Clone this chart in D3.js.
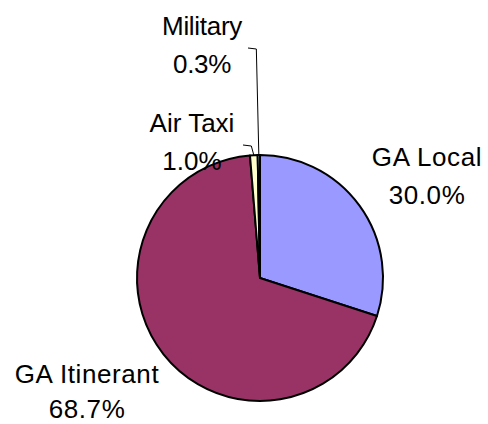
<!DOCTYPE html>
<html>
<head>
<meta charset="utf-8">
<script src="https://cdn.jsdelivr.net/npm/d3@7"></script>
<style>
html,body{margin:0;padding:0;background:#fff;}
svg{display:block;}
text{font-family:"Liberation Sans",Arial,sans-serif;font-size:26px;fill:#000;}
</style>
</head>
<body>
<svg id="chart" width="488" height="424"></svg>
<script>
const categories = ["GA Local", "GA Itinerant", "Air Taxi", "Military"];
const values = [30.0, 68.7, 1.0, 0.3];
const labels = ["30.0%", "68.7%", "1.0%", "0.3%"];
const colors = ["#9999FF", "#993366", "#FFFFCC", "#CCFFFF"];

// layout
const cx = 260, cy = 278, R = 123;
const labelPos = [
  {x: 427, y: 166, lh: 38, ls: 0.6},
  {x: 87, y: 383, lh: 35, ls: 0.6},
  {x: 192, y: 132, lh: 38, ls: 0},
  {x: 202, y: 35, lh: 38, ls: -0.3}
];
// leader line elbows for tiny slices (index -> [elbow y, end x])
const leaders = {2: {ey: 145, ex: 243}, 3: {ey: 48, ex: 248}};

const svg = d3.select("#chart");
const g = svg.append("g").attr("transform", `translate(${cx},${cy})`);

const pie = d3.pie().sort(null).value(d => d)(values);
const arc = d3.arc().innerRadius(0).outerRadius(R);

g.selectAll("path.slice").data(pie).join("path")
  .attr("class", "slice")
  .attr("d", arc)
  .attr("fill", (d, i) => colors[i])
  .attr("stroke", "#000")
  .attr("stroke-width", 2)
  .attr("stroke-linejoin", "round");

// leader lines
Object.keys(leaders).forEach(k => {
  const i = +k;
  const d = pie[i];
  const a = (d.startAngle + d.endAngle) / 2;
  const px = cx + R * Math.sin(a), py = cy - R * Math.cos(a);
  const L = leaders[k];
  const midx = px - 2.5;
  svg.append("path")
    .attr("d", `M${px},${py} L${midx},${L.ey + 1} L${L.ex},${L.ey}`)
    .attr("fill", "none")
    .attr("stroke", "#000")
    .attr("stroke-width", 1);
});

// labels
categories.forEach((c, i) => {
  const p = labelPos[i];
  const t = svg.append("text")
    .attr("x", p.x)
    .attr("y", p.y)
    .attr("text-anchor", "middle")
    .style("letter-spacing", p.ls + "px");
  t.append("tspan").attr("x", p.x).text(c);
  t.append("tspan").attr("x", p.x).attr("dy", p.lh).text(labels[i]);
});
</script>
</body>
</html>
